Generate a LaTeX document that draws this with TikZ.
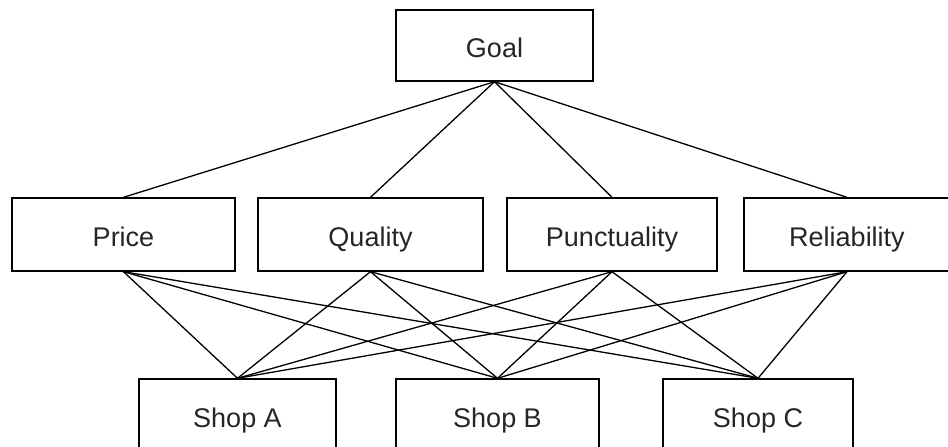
\documentclass[tikz,border=0pt]{standalone}
\usepackage{fontspec}
\setmainfont{Liberation Sans}
\begin{document}
\begin{tikzpicture}[x=1pt,y=-1pt,
  box/.style={draw=black,line width=1.4pt,fill=white,inner sep=0pt,
    font=\fontsize{27}{32}\selectfont,text=black!85,
    text height=24pt,text depth=0pt},
  link/.style={draw=black,line width=1.3pt}]
\useasboundingbox (0,0) rectangle (948,447);
\node[box,minimum width=197pt,minimum height=71pt] (goal) at (494.5,45.5) {Goal};
\node[box,minimum width=223pt,minimum height=73pt] (price) at (123.5,234.5) {Price};
\node[box,minimum width=225pt,minimum height=73pt] (quality) at (370.5,234.5) {Quality};
\node[box,minimum width=210pt,minimum height=73pt] (punct) at (612,234.5) {Punctuality};
\node[box,minimum width=206pt,minimum height=73pt] (rel) at (847,234.5) {Reliability};
\node[box,minimum width=197pt,minimum height=72pt] (shopa) at (237.5,415) {Shop A};
\node[box,minimum width=203pt,minimum height=72pt] (shopb) at (497.5,415) {Shop B};
\node[box,minimum width=190pt,minimum height=72pt] (shopc) at (758,415) {Shop C};
\foreach \c in {price,quality,punct,rel}{
  \draw[link] (goal.south) -- (\c.north);
  \foreach \s in {shopa,shopb,shopc}{
    \draw[link] (\c.south) -- (\s.north);
  }
}
\end{tikzpicture}
\end{document}
